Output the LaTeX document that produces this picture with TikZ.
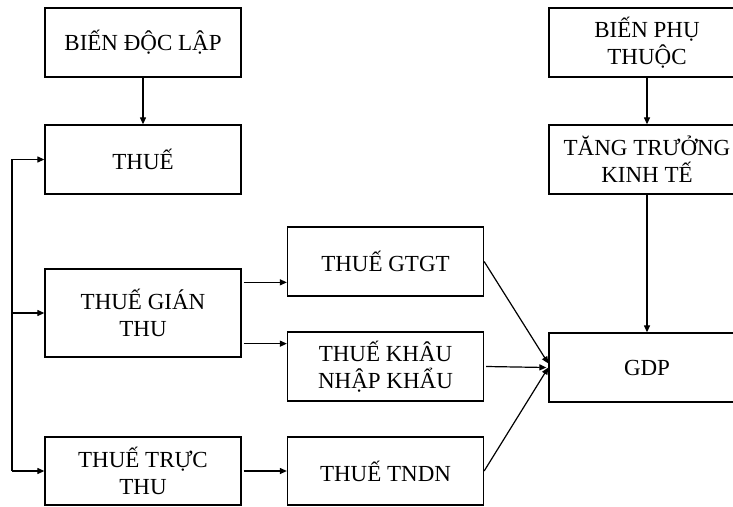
\documentclass[tikz,border=0pt]{standalone}
\usepackage{fontspec}
\setmainfont{Liberation Serif}
\usetikzlibrary{arrows.meta}
\begin{document}
\begin{tikzpicture}[x=1pt,y=-1pt,
    box/.style={draw,line width=1.3pt,minimum width=196pt,minimum height=69pt,
      align=center,inner sep=0pt,font=\fontsize{23}{27}\selectfont},
    arr/.style={-{Triangle[length=7pt,width=6pt]},line width=1.2pt}]
    \clip (0,0) rectangle (733,506);
    \useasboundingbox (0,0) rectangle (733,506);

    % Independent side
    \node[box] (bdl) at (143,42.5) {BIẾN ĐỘC LẬP};
    \node[box] (thue) at (143,159.5) {THUẾ};
    \node[box,minimum height=88pt] (gian) at (143,313) {THUẾ GIÁN\\THU};
    \node[box,minimum height=68pt] (truc) at (143,471) {THUẾ TRỰC\\THU};

    % Tax types
    \node[box] (gtgt) at (385.5,261.5) {THUẾ GTGT};
    \node[box] (khau) at (385.5,366.5) {THUẾ KHÂU\\NHẬP KHẨU};
    \node[box,minimum height=68pt] (tndn) at (385.5,471) {THUẾ TNDN};

    % Dependent side
    \node[box] (bpt) at (647,42.5) {BIẾN PHỤ\\THUỘC};
    \node[box] (tang) at (647,159.5) {TĂNG TRƯỞNG\\KINH TẾ};
    \node[box] (gdp) at (647,367.5) {GDP};

    % Vertical links
    \draw[arr] (bdl) -- (thue);
    \draw[arr] (bpt) -- (tang);
    \draw[arr] (tang) -- (gdp);

    % Left bus
    \coordinate (bus) at (12,0);
    \draw[arr] (bus |- truc.west) |- (thue.west);
    \draw[arr] (bus |- gian.west) -- (gian.west);
    \draw[arr] (bus |- truc.west) -- (truc.west);

    % Into tax types
    \coordinate (g1) at ([yshift=-14pt]gian.north east);
    \coordinate (g2) at ([yshift=14pt]gian.south east);
    \draw[arr] ([xshift=2pt]g1) -- (g1 -| gtgt.west);
    \draw[arr] ([xshift=2pt]g2) -- (g2 -| khau.west);
    \draw[arr] ([xshift=2pt]truc.east) -- (tndn.west);

    % Into GDP
    \draw[arr] (gtgt.east) -- ([yshift=4pt]gdp.west);
    \draw[arr] ([xshift=2pt]khau.east) -- ([xshift=-2pt]gdp.west);
    \draw[arr] (tndn.east) -- (gdp.west);
  \end{tikzpicture}
\end{document}
